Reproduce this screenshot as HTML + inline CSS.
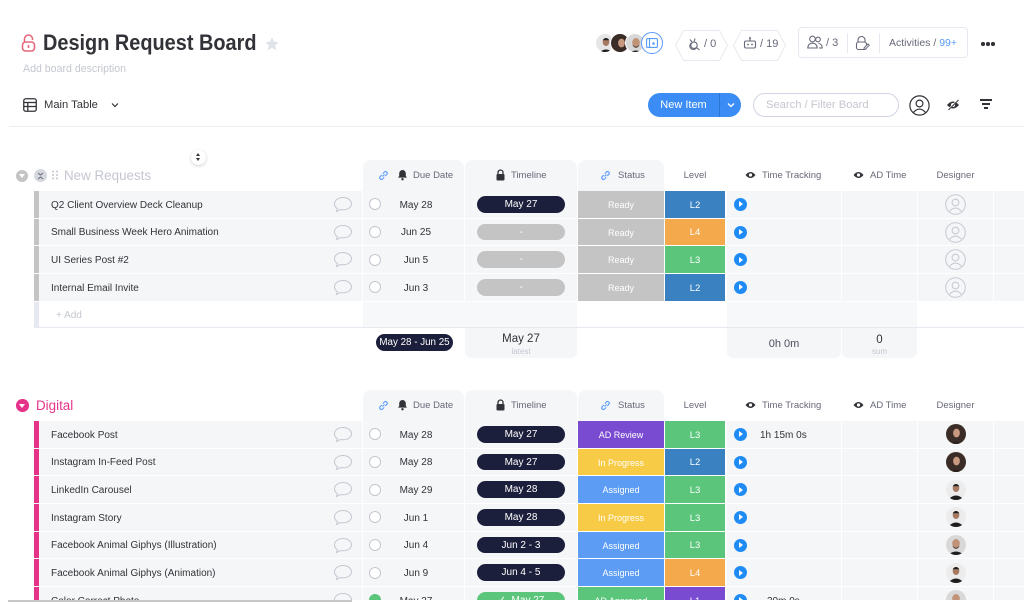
<!DOCTYPE html>
<html><head><meta charset="utf-8">
<style>
*{margin:0;padding:0;box-sizing:border-box}
body{width:1024px;height:608px;overflow:hidden;background:#fff;font-family:"Liberation Sans",sans-serif;color:#323338;position:relative}
.a{position:absolute}
.wrap{position:absolute;left:0;top:0;width:1024px;height:600px;overflow:hidden}
.row{position:absolute;left:0;width:1024px;height:26.7px}
.c{position:absolute;top:0;height:100%;background:#f5f6f8;display:flex;align-items:center;justify-content:center;font-size:10px;color:#323338;white-space:nowrap;padding-top:1.5px}
.bar{left:34px;width:5px}
.nm{left:39px;width:323px;justify-content:flex-start;padding-left:12px}
.du{left:363px;width:101px}
.tl{left:465px;width:112px;padding-top:0}
.st{left:578px;width:86px;color:#fff;font-size:9px}
.lv{left:665px;width:60px;color:#fff;font-size:9.5px}
.tt{left:727px;width:114px;justify-content:flex-start}
.ad{left:842px;width:75px}
.ds{left:918px;width:75px;padding-top:0}
.ex{left:994px;width:30px}
.cm{position:absolute;left:294px;top:5px}
.ck{position:absolute;left:6px;top:7.3px;width:12px;height:12px;border:1px solid #c5c7d0;border-radius:50%;background:#fff}
.ck.ok{background:#5ac57b;border-color:#5ac57b}
.dt{position:absolute;left:23px;width:60px;text-align:center;top:1.5px;line-height:26.7px}
.pl{width:88px;height:16.5px;border-radius:9px;background:#1c1f3b;color:#fff;font-size:10px;display:flex;align-items:center;justify-content:center}
.pl.g{background:#c4c4c4}
.pl.gr{background:#5ac57b}
.play{position:absolute;left:6.5px;top:6.85px;width:13px;height:13px;border-radius:50%;background:#1f8bf5}
.play:after{content:"";position:absolute;left:5px;top:3.5px;border-left:4.5px solid #fff;border-top:3px solid transparent;border-bottom:3px solid transparent}
.ttx{position:absolute;left:33px;top:1.5px;line-height:26.7px;font-size:10px;color:#323338}
.hdr{position:absolute;left:0;width:1024px;height:31px}
.hd{position:absolute;top:0;height:31px;display:flex;align-items:center;font-size:9.5px;color:#676879;white-space:nowrap}
.hb{position:absolute;top:0;height:31px;background:#f5f6f8;border-radius:8px 8px 0 0}
.av{width:20px;height:20px;border-radius:50%;overflow:hidden}
</style></head>
<body>
<div class="wrap">

<!-- Title area -->
<svg class="a" style="left:21px;top:34px" width="15" height="18" viewBox="0 0 15 18"><path d="M3.5 8V5a4 4 0 0 1 8 0v1" fill="none" stroke="#e4697c" stroke-width="1.6"/><rect x="1.5" y="8" width="12" height="9" rx="3" fill="none" stroke="#e4697c" stroke-width="1.6"/><line x1="7.5" y1="11" x2="7.5" y2="14" stroke="#e4697c" stroke-width="1.6"/></svg>
<div class="a" style="left:43px;top:32px;font-size:22px;line-height:22px;font-weight:bold;color:#323338;transform:scaleX(0.905);transform-origin:0 0;white-space:nowrap">Design Request Board</div>
<svg class="a" style="left:264px;top:36px" width="16" height="16" viewBox="0 0 24 24"><path d="M12 2l3 6.5 7 .8-5.2 4.8 1.4 7L12 17.6 5.8 21.1l1.4-7L2 9.3l7-.8z" fill="#e0e2ea"/></svg>
<div class="a" style="left:23px;top:62px;font-size:10.6px;line-height:14px;color:#c5c7d0;white-space:nowrap">Add board description</div>

<svg class="a" style="left:23px;top:98px" width="14" height="14" viewBox="0 0 14 14"><rect x="0.75" y="0.75" width="12.5" height="12.5" rx="2" fill="none" stroke="#323338" stroke-width="1.3"/><line x1="0.75" y1="4.5" x2="13.25" y2="4.5" stroke="#323338" stroke-width="1.3"/><line x1="0.75" y1="8.5" x2="13.25" y2="8.5" stroke="#323338" stroke-width="1.3"/><line x1="4.8" y1="4.5" x2="4.8" y2="13.25" stroke="#323338" stroke-width="1.3"/></svg>
<div class="a" style="left:44px;top:98px;font-size:11.2px;line-height:14px;color:#323338;white-space:nowrap">Main Table</div>
<svg class="a" style="left:111px;top:102px" width="8" height="6" viewBox="0 0 8 6"><path d="M1 1.5l3 3 3-3" fill="none" stroke="#323338" stroke-width="1.2"/></svg>

<!-- top right -->
<div class="a av" style="left:595px;top:33px;background:#e6e6e6;border:1px solid #fff"><svg width="20" height="20" viewBox="0 0 20 20"><ellipse cx="10" cy="8" rx="3.3" ry="4" fill="#a87a62"/><path d="M6.6 6.2Q10 1.8 13.4 6.2" fill="#222"/><path d="M1 21Q10 10 19 21Z" fill="#1e1e1e"/></svg></div>
<div class="a av" style="left:610px;top:33px;background:#3a2c27;border:1px solid #fff"><svg width="20" height="20" viewBox="0 0 20 20"><ellipse cx="10.5" cy="9" rx="3.4" ry="4.4" fill="#c8987f"/><path d="M4 21Q10 14 16 21Z" fill="#2a201d"/></svg></div>
<div class="a av" style="left:625px;top:33px;background:#d8d8d8;border:1px solid #fff"><svg width="20" height="20" viewBox="0 0 20 20"><ellipse cx="10" cy="8.5" rx="3.8" ry="4.5" fill="#c09278"/><path d="M6.5 10.5Q10 15 13.5 10.5L13 12Q10 15.5 7 12Z" fill="#3a2a22"/><path d="M1 21Q10 12 19 21Z" fill="#1e1e1e"/></svg></div>
<div class="a" style="left:641px;top:32px;width:22px;height:22px;border-radius:50%;border:1.5px solid #579bfc;background:#fff"></div>
<svg class="a" style="left:646px;top:38px" width="12" height="10" viewBox="0 0 12 10"><rect x="0.6" y="0.6" width="10.8" height="8.8" rx="1" fill="none" stroke="#579bfc" stroke-width="1.1"/><line x1="3.5" y1="0.6" x2="3.5" y2="9.4" stroke="#579bfc" stroke-width="1.1"/><circle cx="7.5" cy="5.5" r="1.3" fill="#579bfc"/></svg>

<svg class="a" style="left:675px;top:30px" width="53" height="31" viewBox="0 0 53 31"><path d="M8.5 .5H44.5L52.5 15.5L44.5 30.5H8.5L.5 15.5Z" fill="#fff" stroke="#e6e9ef"/></svg>
<svg class="a" style="left:687px;top:37px" width="14" height="14" viewBox="0 0 14 14"><path d="M3 2.5l2 2.5M8 1.5l-1 3.5M4.5 6a3.5 3.5 0 1 0 5 4.5l3 2.5" fill="none" stroke="#676879" stroke-width="1.1"/><circle cx="7" cy="8.2" r="3.2" fill="none" stroke="#676879" stroke-width="1.1"/></svg>
<div class="a" style="left:704px;top:37px;font-size:11px;line-height:14px;color:#676879">/ 0</div>
<svg class="a" style="left:733px;top:30px" width="53" height="31" viewBox="0 0 53 31"><path d="M8.5 .5H44.5L52.5 15.5L44.5 30.5H8.5L.5 15.5Z" fill="#fff" stroke="#e6e9ef"/></svg>
<svg class="a" style="left:743px;top:36px" width="14" height="14" viewBox="0 0 14 14"><rect x="1.5" y="5" width="11" height="7" rx="1.5" fill="none" stroke="#676879" stroke-width="1.1"/><line x1="7" y1="5" x2="7" y2="2.5" stroke="#676879" stroke-width="1.1"/><circle cx="7" cy="2" r="1" fill="#676879"/><circle cx="5" cy="8.5" r="0.9" fill="#676879"/><circle cx="9" cy="8.5" r="0.9" fill="#676879"/></svg>
<div class="a" style="left:760px;top:37px;font-size:11px;line-height:14px;color:#676879">/ 19</div>

<div class="a" style="left:798px;top:27px;width:170px;height:31px;border:1px solid #e6e9ef;border-radius:4px;background:#fff"></div>
<svg class="a" style="left:807px;top:35px" width="16" height="14" viewBox="0 0 16 14"><circle cx="5.5" cy="4" r="2.8" fill="none" stroke="#676879" stroke-width="1.1"/><path d="M.8 13c0-3 2-4.8 4.7-4.8S10.2 10 10.2 13z" fill="none" stroke="#676879" stroke-width="1.1"/><circle cx="11" cy="4.5" r="2.3" fill="none" stroke="#676879" stroke-width="1.1"/><path d="M11.5 8.5c2 0 3.7 1.5 3.7 4.5H12" fill="none" stroke="#676879" stroke-width="1.1"/></svg>
<div class="a" style="left:826px;top:36px;font-size:11px;line-height:14px;color:#676879">/ 3</div>
<div class="a" style="left:847px;top:33px;width:1px;height:20px;background:#e6e9ef"></div>
<svg class="a" style="left:855px;top:35px" width="15" height="16" viewBox="0 0 15 16"><path d="M3 7V5a3.5 3.5 0 0 1 7 0v2" fill="none" stroke="#676879" stroke-width="1.1"/><rect x="1.5" y="7" width="10" height="7.5" rx="2" fill="none" stroke="#676879" stroke-width="1.1"/><path d="M9 13l4-4 1.3 1.3-4 4H9z" fill="#fff" stroke="#676879" stroke-width="1"/></svg>
<div class="a" style="left:879px;top:33px;width:1px;height:20px;background:#e6e9ef"></div>
<div class="a" style="left:889px;top:36px;font-size:10.5px;line-height:14px;color:#676879;white-space:nowrap">Activities / <span style="color:#579bfc">99+</span></div>
<div class="a" style="left:981px;top:42px;width:3.5px;height:3.5px;border-radius:50%;background:#323338"></div>
<div class="a" style="left:986px;top:42px;width:3.5px;height:3.5px;border-radius:50%;background:#323338"></div>
<div class="a" style="left:991px;top:42px;width:3.5px;height:3.5px;border-radius:50%;background:#323338"></div>

<div class="a" style="left:648px;top:93px;width:93px;height:24px;border-radius:12px;background:#3b8df5"></div>
<div class="a" style="left:648px;top:93px;width:71px;height:24px;display:flex;align-items:center;justify-content:center;font-size:11px;color:#fff">New Item</div>
<div class="a" style="left:719px;top:93px;width:1px;height:24px;background:#2a74d6"></div>
<svg class="a" style="left:727px;top:102px" width="8" height="6" viewBox="0 0 8 6"><path d="M1 1.5l3 3 3-3" fill="none" stroke="#fff" stroke-width="1.3"/></svg>
<div class="a" style="left:753px;top:93px;width:146px;height:24px;border-radius:12px;border:1px solid #d0d4e4;background:#fff"></div>
<div class="a" style="left:766px;top:98px;font-size:11.2px;line-height:14px;color:#c5c7d0;white-space:nowrap">Search / Filter Board</div>
<svg class="a" style="left:909px;top:95px" width="21" height="21" viewBox="0 0 21 21"><circle cx="10.5" cy="10.5" r="9.6" fill="none" stroke="#323338" stroke-width="1.2"/><circle cx="10.5" cy="8.5" r="3.4" fill="none" stroke="#323338" stroke-width="1.2"/><path d="M4.6 17.3Q10.5 10.8 16.4 17.3" fill="none" stroke="#323338" stroke-width="1.2"/></svg>
<svg class="a" style="left:946px;top:99px" width="14" height="12" viewBox="0 0 14 12"><path d="M1 6Q7 -1 13 6Q7 13 1 6Z" fill="#323338"/><circle cx="7" cy="6" r="2" fill="#fff"/><line x1="2" y1="11" x2="12" y2="1" stroke="#fff" stroke-width="1.6"/><line x1="2.5" y1="11" x2="12.5" y2="1" stroke="#323338" stroke-width="1"/></svg>
<div class="a" style="left:980px;top:99px;width:12px;height:1.5px;background:#323338"></div>
<div class="a" style="left:982px;top:103px;width:8px;height:1.5px;background:#323338"></div>
<div class="a" style="left:984px;top:107px;width:4px;height:1.5px;background:#323338"></div>

<div class="a" style="left:9px;top:126px;width:1015px;height:1px;background:#eceef2"></div>

<!-- sort icon -->
<div class="a" style="left:191px;top:150px;width:15px;height:15px;border-radius:50%;background:#fff;box-shadow:0 1px 3px rgba(0,0,0,.2)"></div>
<div class="a" style="left:196px;top:153px;border-bottom:3.5px solid #323338;border-left:2.5px solid transparent;border-right:2.5px solid transparent"></div>
<div class="a" style="left:196px;top:158px;border-top:3.5px solid #323338;border-left:2.5px solid transparent;border-right:2.5px solid transparent"></div>

<!-- ============ GROUP 1 HEADER ============ -->
<div class="hdr" style="top:160px">
  <div class="a" style="left:16px;top:9.5px;width:12px;height:12px;border-radius:50%;background:#c4c4c4"></div>
  <div class="a" style="left:19px;top:14px;border-top:4px solid #fff;border-left:3px solid transparent;border-right:3px solid transparent"></div>
  <div class="a" style="left:34px;top:9px;width:13px;height:13px;border-radius:50%;background:#d5d8df"></div>
  <svg class="a" style="left:37px;top:11.5px" width="7" height="8" viewBox="0 0 7 8"><path d="M1 1l2.5 2 2.5-2M1 7l2.5-2 2.5 2" fill="none" stroke="#676879" stroke-width="1"/></svg>
  <svg class="a" style="left:52px;top:10px" width="6" height="10" viewBox="0 0 6 10"><g fill="#c5c7d0"><circle cx="1" cy="1.5" r="1"/><circle cx="5" cy="1.5" r="1"/><circle cx="1" cy="5" r="1"/><circle cx="5" cy="5" r="1"/><circle cx="1" cy="8.5" r="1"/><circle cx="5" cy="8.5" r="1"/></g></svg>
  <div class="hd" style="left:64px;font-size:13.4px;color:#c5c7d0">New Requests</div>
  <div class="hb" style="left:363px;width:101px"></div>
  <div class="hb" style="left:465px;width:112px"></div>
  <div class="hb" style="left:578px;width:86px"></div>
  <svg class="a" style="left:378px;top:10px" width="11" height="11" viewBox="0 0 11 11"><path d="M4.5 6.5l2-2M3.8 5L2.2 6.6a1.7 1.7 0 0 0 2.4 2.4L6.2 7.4M7.2 6L8.8 4.4a1.7 1.7 0 0 0-2.4-2.4L4.8 3.6" fill="none" stroke="#579bfc" stroke-width="1.1"/></svg>
  <svg class="a" style="left:397px;top:9px" width="11" height="12" viewBox="0 0 11 12"><path d="M5.5 1a3.3 3.3 0 0 0-3.3 3.3V7L1 8.6h9L8.8 7V4.3A3.3 3.3 0 0 0 5.5 1z" fill="#323338"/><circle cx="5.5" cy="10.2" r="1.2" fill="#323338"/></svg>
  <div class="hd" style="left:413px">Due Date</div>
  <svg class="a" style="left:496px;top:9px" width="9" height="12" viewBox="0 0 9 12"><path d="M2 5V3.5a2.5 2.5 0 0 1 5 0V5" fill="none" stroke="#323338" stroke-width="1.3"/><rect x="0.5" y="5" width="8" height="6.5" rx="1" fill="#323338"/></svg>
  <div class="hd" style="left:511px">Timeline</div>
  <svg class="a" style="left:600px;top:10px" width="11" height="11" viewBox="0 0 11 11"><path d="M4.5 6.5l2-2M3.8 5L2.2 6.6a1.7 1.7 0 0 0 2.4 2.4L6.2 7.4M7.2 6L8.8 4.4a1.7 1.7 0 0 0-2.4-2.4L4.8 3.6" fill="none" stroke="#579bfc" stroke-width="1.1"/></svg>
  <div class="hd" style="left:618px">Status</div>
  <div class="hd" style="left:665px;width:60px;justify-content:center">Level</div>
  <svg class="a" style="left:745px;top:11px" width="11" height="8" viewBox="0 0 11 8"><path d="M.5 4Q5.5 -2 10.5 4Q5.5 10 .5 4Z" fill="#323338"/><circle cx="5.5" cy="4" r="1.6" fill="#fff"/></svg>
  <div class="hd" style="left:762px">Time Tracking</div>
  <svg class="a" style="left:853px;top:11px" width="11" height="8" viewBox="0 0 11 8"><path d="M.5 4Q5.5 -2 10.5 4Q5.5 10 .5 4Z" fill="#323338"/><circle cx="5.5" cy="4" r="1.6" fill="#fff"/></svg>
  <div class="hd" style="left:870px">AD Time</div>
  <div class="hd" style="left:918px;width:75px;justify-content:center">Designer</div>
</div>

<!-- GROUP 1 ROWS -->
<div class="row" style="top:191px">
<div class="c bar" style="background:#c4c4c4"></div>
<div class="c nm">Q2 Client Overview Deck Cleanup<svg class="cm" width="20" height="17" viewBox="0 0 20 17"><path d="M10 1.5C5 1.5 1.5 4.3 1.5 7.8c0 2 1.2 3.8 3 4.9L3.5 15.5l4-2c.8.2 1.6.3 2.5.3 5 0 8.5-2.8 8.5-6S15 1.5 10 1.5z" fill="none" stroke="#c5c7d0"/></svg></div>
<div class="c du"><span class="ck"></span><span class="dt">May 28</span></div>
<div class="c tl"><div class="pl">May 27</div></div>
<div class="c st" style="background:#c4c4c4">Ready</div>
<div class="c lv" style="background:#3a81c2">L2</div>
<div class="c tt"><span class="play"></span></div>
<div class="c ad"></div>
<div class="c ds"><svg width="21" height="21" viewBox="0 0 21 21"><circle cx="10.5" cy="10.5" r="9.8" fill="none" stroke="#c5c7d0"/><circle cx="10.5" cy="8.5" r="3.4" fill="none" stroke="#c5c7d0"/><path d="M4.6 17.3Q10.5 10.8 16.4 17.3" fill="none" stroke="#c5c7d0"/></svg></div>
<div class="c ex"></div>
</div>

<div class="row" style="top:218.67px">
<div class="c bar" style="background:#c4c4c4"></div>
<div class="c nm">Small Business Week Hero Animation<svg class="cm" width="20" height="17" viewBox="0 0 20 17"><path d="M10 1.5C5 1.5 1.5 4.3 1.5 7.8c0 2 1.2 3.8 3 4.9L3.5 15.5l4-2c.8.2 1.6.3 2.5.3 5 0 8.5-2.8 8.5-6S15 1.5 10 1.5z" fill="none" stroke="#c5c7d0"/></svg></div>
<div class="c du"><span class="ck"></span><span class="dt">Jun 25</span></div>
<div class="c tl"><div class="pl g">-</div></div>
<div class="c st" style="background:#c4c4c4">Ready</div>
<div class="c lv" style="background:#f4aa4c">L4</div>
<div class="c tt"><span class="play"></span></div>
<div class="c ad"></div>
<div class="c ds"><svg width="21" height="21" viewBox="0 0 21 21"><circle cx="10.5" cy="10.5" r="9.8" fill="none" stroke="#c5c7d0"/><circle cx="10.5" cy="8.5" r="3.4" fill="none" stroke="#c5c7d0"/><path d="M4.6 17.3Q10.5 10.8 16.4 17.3" fill="none" stroke="#c5c7d0"/></svg></div>
<div class="c ex"></div>
</div>

<div class="row" style="top:246.33px">
<div class="c bar" style="background:#c4c4c4"></div>
<div class="c nm">UI Series Post #2<svg class="cm" width="20" height="17" viewBox="0 0 20 17"><path d="M10 1.5C5 1.5 1.5 4.3 1.5 7.8c0 2 1.2 3.8 3 4.9L3.5 15.5l4-2c.8.2 1.6.3 2.5.3 5 0 8.5-2.8 8.5-6S15 1.5 10 1.5z" fill="none" stroke="#c5c7d0"/></svg></div>
<div class="c du"><span class="ck"></span><span class="dt">Jun 5</span></div>
<div class="c tl"><div class="pl g">-</div></div>
<div class="c st" style="background:#c4c4c4">Ready</div>
<div class="c lv" style="background:#5ac57b">L3</div>
<div class="c tt"><span class="play"></span></div>
<div class="c ad"></div>
<div class="c ds"><svg width="21" height="21" viewBox="0 0 21 21"><circle cx="10.5" cy="10.5" r="9.8" fill="none" stroke="#c5c7d0"/><circle cx="10.5" cy="8.5" r="3.4" fill="none" stroke="#c5c7d0"/><path d="M4.6 17.3Q10.5 10.8 16.4 17.3" fill="none" stroke="#c5c7d0"/></svg></div>
<div class="c ex"></div>
</div>

<div class="row" style="top:274px">
<div class="c bar" style="background:#c4c4c4"></div>
<div class="c nm">Internal Email Invite<svg class="cm" width="20" height="17" viewBox="0 0 20 17"><path d="M10 1.5C5 1.5 1.5 4.3 1.5 7.8c0 2 1.2 3.8 3 4.9L3.5 15.5l4-2c.8.2 1.6.3 2.5.3 5 0 8.5-2.8 8.5-6S15 1.5 10 1.5z" fill="none" stroke="#c5c7d0"/></svg></div>
<div class="c du"><span class="ck"></span><span class="dt">Jun 3</span></div>
<div class="c tl"><div class="pl g">-</div></div>
<div class="c st" style="background:#c4c4c4">Ready</div>
<div class="c lv" style="background:#3a81c2">L2</div>
<div class="c tt"><span class="play"></span></div>
<div class="c ad"></div>
<div class="c ds"><svg width="21" height="21" viewBox="0 0 21 21"><circle cx="10.5" cy="10.5" r="9.8" fill="none" stroke="#c5c7d0"/><circle cx="10.5" cy="8.5" r="3.4" fill="none" stroke="#c5c7d0"/><path d="M4.6 17.3Q10.5 10.8 16.4 17.3" fill="none" stroke="#c5c7d0"/></svg></div>
<div class="c ex"></div>
</div>

<!-- add row -->
<div class="a" style="left:34px;top:301.5px;width:5px;height:25.5px;background:#e6e9ef"></div>
<div class="a" style="left:56px;top:302.5px;height:25.5px;line-height:25.5px;font-size:10px;color:#c5c7d0">+ Add</div>
<div class="a" style="left:363px;top:301.5px;width:214px;height:25.5px;background:#f7f8fa"></div>
<div class="a" style="left:727px;top:301.5px;width:190px;height:25.5px;background:#f7f8fa"></div>
<div class="a" style="left:34px;top:327px;width:990px;height:1px;background:#e6e9ef"></div>

<!-- summary -->
<div class="a" style="left:376px;top:334px;width:77px;height:17px;border-radius:9px;background:#1c1f3b;color:#fff;font-size:9.8px;display:flex;align-items:center;justify-content:center;white-space:nowrap">May 28 - Jun 25</div>
<div class="a" style="left:465px;top:328px;width:112px;height:30px;background:#f5f6f8;border-radius:0 0 6px 6px"></div>
<div class="a" style="left:465px;top:332px;width:112px;text-align:center;font-size:11.5px;line-height:14px;color:#323338">May 27</div>
<div class="a" style="left:465px;top:347px;width:112px;text-align:center;font-size:8px;line-height:10px;color:#c5c7d0">latest</div>
<div class="a" style="left:727px;top:328px;width:114px;height:30px;background:#f5f6f8;border-radius:0 0 6px 6px"></div>
<div class="a" style="left:727px;top:337px;width:114px;text-align:center;font-size:11px;line-height:14px;color:#4b4d5c">0h 0m</div>
<div class="a" style="left:842px;top:328px;width:75px;height:30px;background:#f5f6f8;border-radius:0 0 6px 6px"></div>
<div class="a" style="left:842px;top:333px;width:75px;text-align:center;font-size:11.5px;line-height:14px;color:#323338">0</div>
<div class="a" style="left:842px;top:347px;width:75px;text-align:center;font-size:8px;line-height:10px;color:#c5c7d0">sum</div>

<!-- ============ GROUP 2 HEADER ============ -->
<div class="hdr" style="top:390px">
  <div class="a" style="left:16px;top:9px;width:12.5px;height:12.5px;border-radius:50%;background:#e5338a"></div>
  <div class="a" style="left:19.2px;top:13.5px;border-top:4px solid #fff;border-left:3px solid transparent;border-right:3px solid transparent"></div>
  <div class="hd" style="left:36px;font-size:13.4px;color:#e5338a">Digital</div>
  <div class="hb" style="left:363px;width:101px"></div>
  <div class="hb" style="left:465px;width:112px"></div>
  <div class="hb" style="left:578px;width:86px"></div>
  <svg class="a" style="left:378px;top:10px" width="11" height="11" viewBox="0 0 11 11"><path d="M4.5 6.5l2-2M3.8 5L2.2 6.6a1.7 1.7 0 0 0 2.4 2.4L6.2 7.4M7.2 6L8.8 4.4a1.7 1.7 0 0 0-2.4-2.4L4.8 3.6" fill="none" stroke="#579bfc" stroke-width="1.1"/></svg>
  <svg class="a" style="left:397px;top:9px" width="11" height="12" viewBox="0 0 11 12"><path d="M5.5 1a3.3 3.3 0 0 0-3.3 3.3V7L1 8.6h9L8.8 7V4.3A3.3 3.3 0 0 0 5.5 1z" fill="#323338"/><circle cx="5.5" cy="10.2" r="1.2" fill="#323338"/></svg>
  <div class="hd" style="left:413px">Due Date</div>
  <svg class="a" style="left:496px;top:9px" width="9" height="12" viewBox="0 0 9 12"><path d="M2 5V3.5a2.5 2.5 0 0 1 5 0V5" fill="none" stroke="#323338" stroke-width="1.3"/><rect x="0.5" y="5" width="8" height="6.5" rx="1" fill="#323338"/></svg>
  <div class="hd" style="left:511px">Timeline</div>
  <svg class="a" style="left:600px;top:10px" width="11" height="11" viewBox="0 0 11 11"><path d="M4.5 6.5l2-2M3.8 5L2.2 6.6a1.7 1.7 0 0 0 2.4 2.4L6.2 7.4M7.2 6L8.8 4.4a1.7 1.7 0 0 0-2.4-2.4L4.8 3.6" fill="none" stroke="#579bfc" stroke-width="1.1"/></svg>
  <div class="hd" style="left:618px">Status</div>
  <div class="hd" style="left:665px;width:60px;justify-content:center">Level</div>
  <svg class="a" style="left:745px;top:11px" width="11" height="8" viewBox="0 0 11 8"><path d="M.5 4Q5.5 -2 10.5 4Q5.5 10 .5 4Z" fill="#323338"/><circle cx="5.5" cy="4" r="1.6" fill="#fff"/></svg>
  <div class="hd" style="left:762px">Time Tracking</div>
  <svg class="a" style="left:853px;top:11px" width="11" height="8" viewBox="0 0 11 8"><path d="M.5 4Q5.5 -2 10.5 4Q5.5 10 .5 4Z" fill="#323338"/><circle cx="5.5" cy="4" r="1.6" fill="#fff"/></svg>
  <div class="hd" style="left:870px">AD Time</div>
  <div class="hd" style="left:918px;width:75px;justify-content:center">Designer</div>
</div>

<!-- GROUP 2 ROWS -->
<div class="row" style="top:421px">
<div class="c bar" style="background:#e5338a"></div>
<div class="c nm">Facebook Post<svg class="cm" width="20" height="17" viewBox="0 0 20 17"><path d="M10 1.5C5 1.5 1.5 4.3 1.5 7.8c0 2 1.2 3.8 3 4.9L3.5 15.5l4-2c.8.2 1.6.3 2.5.3 5 0 8.5-2.8 8.5-6S15 1.5 10 1.5z" fill="none" stroke="#c5c7d0"/></svg></div>
<div class="c du"><span class="ck"></span><span class="dt">May 28</span></div>
<div class="c tl"><div class="pl">May 27</div></div>
<div class="c st" style="background:#784bd1">AD Review</div>
<div class="c lv" style="background:#5ac57b">L3</div>
<div class="c tt"><span class="play"></span><span class="ttx">1h 15m 0s</span></div>
<div class="c ad"></div>
<div class="c ds"><div class="av" style="background:#3a2c27"><svg width="20" height="20" viewBox="0 0 20 20"><ellipse cx="10.5" cy="9" rx="3.4" ry="4.4" fill="#c8987f"/><path d="M4 21Q10 14 16 21Z" fill="#2a201d"/></svg></div></div>
<div class="c ex"></div>
</div>

<div class="row" style="top:448.67px">
<div class="c bar" style="background:#e5338a"></div>
<div class="c nm">Instagram In-Feed Post<svg class="cm" width="20" height="17" viewBox="0 0 20 17"><path d="M10 1.5C5 1.5 1.5 4.3 1.5 7.8c0 2 1.2 3.8 3 4.9L3.5 15.5l4-2c.8.2 1.6.3 2.5.3 5 0 8.5-2.8 8.5-6S15 1.5 10 1.5z" fill="none" stroke="#c5c7d0"/></svg></div>
<div class="c du"><span class="ck"></span><span class="dt">May 28</span></div>
<div class="c tl"><div class="pl">May 27</div></div>
<div class="c st" style="background:#f8cb46">In Progress</div>
<div class="c lv" style="background:#3a81c2">L2</div>
<div class="c tt"><span class="play"></span></div>
<div class="c ad"></div>
<div class="c ds"><div class="av" style="background:#3a2c27"><svg width="20" height="20" viewBox="0 0 20 20"><ellipse cx="10.5" cy="9" rx="3.4" ry="4.4" fill="#c8987f"/><path d="M4 21Q10 14 16 21Z" fill="#2a201d"/></svg></div></div>
<div class="c ex"></div>
</div>

<div class="row" style="top:476.33px">
<div class="c bar" style="background:#e5338a"></div>
<div class="c nm">LinkedIn Carousel<svg class="cm" width="20" height="17" viewBox="0 0 20 17"><path d="M10 1.5C5 1.5 1.5 4.3 1.5 7.8c0 2 1.2 3.8 3 4.9L3.5 15.5l4-2c.8.2 1.6.3 2.5.3 5 0 8.5-2.8 8.5-6S15 1.5 10 1.5z" fill="none" stroke="#c5c7d0"/></svg></div>
<div class="c du"><span class="ck"></span><span class="dt">May 29</span></div>
<div class="c tl"><div class="pl">May 28</div></div>
<div class="c st" style="background:#5c9cf5">Assigned</div>
<div class="c lv" style="background:#5ac57b">L3</div>
<div class="c tt"><span class="play"></span></div>
<div class="c ad"></div>
<div class="c ds"><div class="av" style="background:#ececec"><svg width="20" height="20" viewBox="0 0 20 20"><ellipse cx="10" cy="8" rx="3.3" ry="4" fill="#a87a62"/><path d="M6.6 6.2Q10 1.8 13.4 6.2" fill="#222"/><path d="M1 21Q10 10 19 21Z" fill="#1e1e1e"/></svg></div></div>
<div class="c ex"></div>
</div>

<div class="row" style="top:504px">
<div class="c bar" style="background:#e5338a"></div>
<div class="c nm">Instagram Story<svg class="cm" width="20" height="17" viewBox="0 0 20 17"><path d="M10 1.5C5 1.5 1.5 4.3 1.5 7.8c0 2 1.2 3.8 3 4.9L3.5 15.5l4-2c.8.2 1.6.3 2.5.3 5 0 8.5-2.8 8.5-6S15 1.5 10 1.5z" fill="none" stroke="#c5c7d0"/></svg></div>
<div class="c du"><span class="ck"></span><span class="dt">Jun 1</span></div>
<div class="c tl"><div class="pl">May 28</div></div>
<div class="c st" style="background:#f8cb46">In Progress</div>
<div class="c lv" style="background:#5ac57b">L3</div>
<div class="c tt"><span class="play"></span></div>
<div class="c ad"></div>
<div class="c ds"><div class="av" style="background:#ececec"><svg width="20" height="20" viewBox="0 0 20 20"><ellipse cx="10" cy="8" rx="3.3" ry="4" fill="#a87a62"/><path d="M6.6 6.2Q10 1.8 13.4 6.2" fill="#222"/><path d="M1 21Q10 10 19 21Z" fill="#1e1e1e"/></svg></div></div>
<div class="c ex"></div>
</div>

<div class="row" style="top:531.67px">
<div class="c bar" style="background:#e5338a"></div>
<div class="c nm">Facebook Animal Giphys (Illustration)<svg class="cm" width="20" height="17" viewBox="0 0 20 17"><path d="M10 1.5C5 1.5 1.5 4.3 1.5 7.8c0 2 1.2 3.8 3 4.9L3.5 15.5l4-2c.8.2 1.6.3 2.5.3 5 0 8.5-2.8 8.5-6S15 1.5 10 1.5z" fill="none" stroke="#c5c7d0"/></svg></div>
<div class="c du"><span class="ck"></span><span class="dt">Jun 4</span></div>
<div class="c tl"><div class="pl">Jun 2 - 3</div></div>
<div class="c st" style="background:#5c9cf5">Assigned</div>
<div class="c lv" style="background:#5ac57b">L3</div>
<div class="c tt"><span class="play"></span></div>
<div class="c ad"></div>
<div class="c ds"><div class="av" style="background:#d8d8d8"><svg width="20" height="20" viewBox="0 0 20 20"><ellipse cx="10" cy="8.5" rx="3.8" ry="4.5" fill="#c09278"/><path d="M6.5 10.5Q10 15 13.5 10.5L13 12Q10 15.5 7 12Z" fill="#3a2a22"/><path d="M1 21Q10 12 19 21Z" fill="#1e1e1e"/></svg></div></div>
<div class="c ex"></div>
</div>

<div class="row" style="top:559.33px">
<div class="c bar" style="background:#e5338a"></div>
<div class="c nm">Facebook Animal Giphys (Animation)<svg class="cm" width="20" height="17" viewBox="0 0 20 17"><path d="M10 1.5C5 1.5 1.5 4.3 1.5 7.8c0 2 1.2 3.8 3 4.9L3.5 15.5l4-2c.8.2 1.6.3 2.5.3 5 0 8.5-2.8 8.5-6S15 1.5 10 1.5z" fill="none" stroke="#c5c7d0"/></svg></div>
<div class="c du"><span class="ck"></span><span class="dt">Jun 9</span></div>
<div class="c tl"><div class="pl">Jun 4 - 5</div></div>
<div class="c st" style="background:#5c9cf5">Assigned</div>
<div class="c lv" style="background:#f4aa4c">L4</div>
<div class="c tt"><span class="play"></span></div>
<div class="c ad"></div>
<div class="c ds"><div class="av" style="background:#ececec"><svg width="20" height="20" viewBox="0 0 20 20"><ellipse cx="10" cy="8" rx="3.3" ry="4" fill="#a87a62"/><path d="M6.6 6.2Q10 1.8 13.4 6.2" fill="#222"/><path d="M1 21Q10 10 19 21Z" fill="#1e1e1e"/></svg></div></div>
<div class="c ex"></div>
</div>

<div class="row" style="top:587px">
<div class="c bar" style="background:#e5338a"></div>
<div class="c nm">Color Correct Photo<svg class="cm" width="20" height="17" viewBox="0 0 20 17"><path d="M10 1.5C5 1.5 1.5 4.3 1.5 7.8c0 2 1.2 3.8 3 4.9L3.5 15.5l4-2c.8.2 1.6.3 2.5.3 5 0 8.5-2.8 8.5-6S15 1.5 10 1.5z" fill="none" stroke="#c5c7d0"/></svg></div>
<div class="c du"><span class="ck ok"></span><span class="dt">May 27</span></div>
<div class="c tl"><div class="pl gr">✓&nbsp;&nbsp;May 27</div></div>
<div class="c st" style="background:#5ac57b">AD Approved</div>
<div class="c lv" style="background:#784bd1">L1</div>
<div class="c tt"><span class="play"></span><span class="ttx" style="left:40px">30m 0s</span></div>
<div class="c ad"></div>
<div class="c ds"><div class="av" style="background:#d8d8d8"><svg width="20" height="20" viewBox="0 0 20 20"><ellipse cx="10" cy="8.5" rx="3.8" ry="4.5" fill="#c09278"/><path d="M1 21Q10 12 19 21Z" fill="#1e1e1e"/></svg></div></div>
<div class="c ex"></div>
</div>

</div>
<!-- scrollbar -->
<div class="a" style="left:8px;top:600px;width:344px;height:2px;background:#c6c6c6"></div>
</body></html>
